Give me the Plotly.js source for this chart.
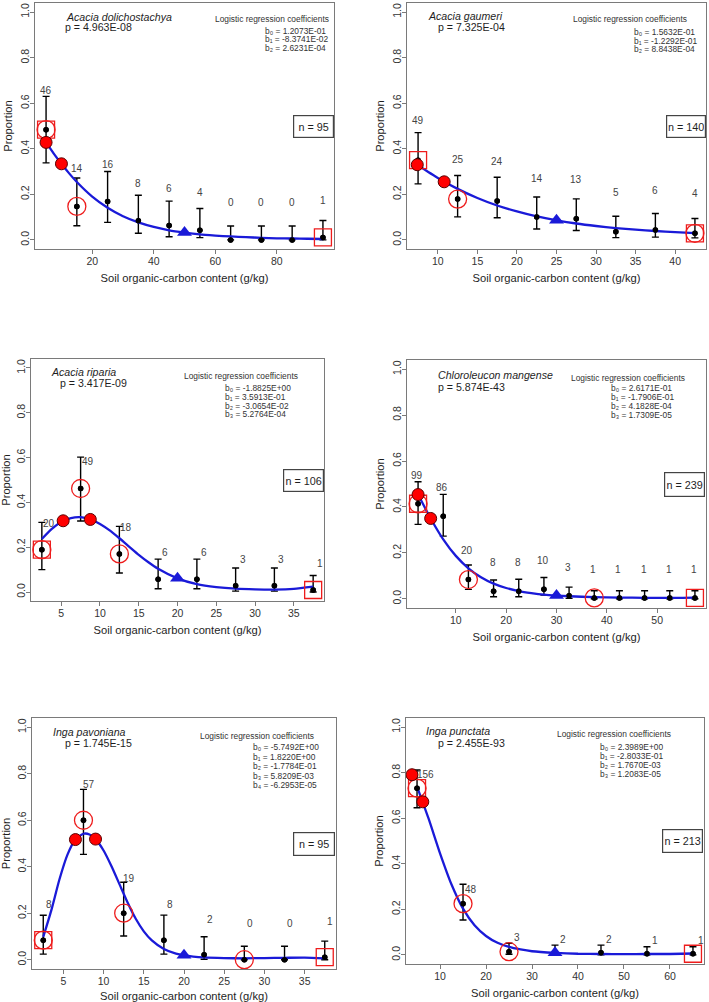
<!DOCTYPE html>
<html>
<head>
<meta charset="utf-8">
<script src="https://cdn.plot.ly/plotly-3.0.1.min.js"></script>
<style>
  html, body { margin: 0; padding: 0; background: #ffffff; }
  #chart { width: 709px; height: 1002px; }
</style>
</head>
<body>
<div id="chart"></div>
<script>
// ---------- Acacia dolichostachya ----------
const p1_species = 'Acacia dolichostachya';
const p1_pvalue = '4.963E-08';
const p1_coefs = ['1.2073E-01', '-8.3741E-02', '2.6231E-04'];
const p1_n = 95;
const p1_bins = [5, 15, 25, 35, 45, 55, 65, 75, 85, 95];
const p1_counts = [46, 14, 16, 8, 6, 4, 0, 0, 0, 1];
const p1_prop = [0.484, 0.147, 0.168, 0.084, 0.063, 0.042, 0, 0, 0, 0.011];
const p1_upper = [0.630, 0.272, 0.300, 0.196, 0.170, 0.138, 0.061, 0.061, 0.061, 0.085];
const p1_lower = [0.338, 0.062, 0.077, 0.029, 0.014, 0.010, 0, 0, 0, 0];
const p1_fitX = [5, 7.5, 10, 12.5, 15, 20, 25, 30, 35, 40, 45, 50, 55, 60, 65, 70, 75, 80, 85, 90, 95];
const p1_fitY = [0.428, 0.379, 0.334, 0.292, 0.254, 0.190, 0.141, 0.104, 0.077, 0.057, 0.042, 0.032, 0.024, 0.019, 0.015, 0.012, 0.009, 0.007, 0.006, 0.005, 0.004];
const p1_redX = [5, 10];
const p1_redY = [0.428, 0.334];
const p1_triX = [50];
const p1_triY = [0.032];
const p1_circled = [5, 15];
const p1_boxed = [5, 95];

// ---------- Acacia gaumeri ----------
const p2_species = 'Acacia gaumeri';
const p2_pvalue = '7.325E-04';
const p2_coefs = ['1.5632E-01', '-1.2292E-01', '8.8438E-04'];
const p2_n = 140;
const p2_bins = [7.5, 12.5, 17.5, 22.5, 27.5, 32.5, 37.5, 42.5];
const p2_counts = [49, 25, 24, 14, 13, 5, 6, 4];
const p2_prop = [0.350, 0.179, 0.171, 0.100, 0.093, 0.036, 0.043, 0.029];
const p2_upper = [0.471, 0.283, 0.275, 0.188, 0.180, 0.104, 0.116, 0.094];
const p2_lower = [0.246, 0.101, 0.097, 0.048, 0.041, 0.010, 0.012, 0.009];
const p2_fitX = [7.5, 10, 12.5, 15, 17.5, 20, 22.5, 25, 27.5, 30, 32.5, 35, 37.5, 40, 42.5];
const p2_fitY = [0.328, 0.272, 0.224, 0.184, 0.151, 0.125, 0.103, 0.086, 0.072, 0.061, 0.052, 0.045, 0.039, 0.034, 0.030];
const p2_redX = [7.4, 10.8];
const p2_redY = [0.330, 0.255];
const p2_triX = [25];
const p2_triY = [0.086];
const p2_circled = [12.5, 42.5];
const p2_boxed = [7.5, 42.5];

// ---------- Acacia riparia ----------
const p3_species = 'Acacia riparia';
const p3_pvalue = '3.417E-09';
const p3_coefs = ['-1.8825E+00', '3.5913E-01', '-3.0654E-02', '5.2764E-04'];
const p3_n = 106;
const p3_bins = [2.5, 7.5, 12.5, 17.5, 22.5, 27.5, 32.5, 37.5];
const p3_counts = [20, 49, 18, 6, 6, 3, 3, 1];
const p3_prop = [0.189, 0.462, 0.170, 0.057, 0.057, 0.028, 0.028, 0.009];
const p3_upper = [0.311, 0.602, 0.293, 0.147, 0.147, 0.107, 0.107, 0.074];
const p3_lower = [0.100, 0.317, 0.085, 0.015, 0.015, 0.004, 0.004, 0];
const p3_fitX = [2.5, 3.75, 5, 6.25, 7.5, 8.75, 10, 11.25, 12.5, 13.75, 15, 16.25, 17.5, 20, 22.5, 25, 27.5, 30, 32.5, 35, 37.5];
const p3_fitY = [0.237, 0.281, 0.313, 0.330, 0.334, 0.324, 0.304, 0.275, 0.240, 0.203, 0.166, 0.133, 0.104, 0.061, 0.035, 0.022, 0.015, 0.012, 0.011, 0.014, 0.024];
const p3_redX = [5.25, 8.75];
const p3_redY = [0.318, 0.324];
const p3_triX = [20];
const p3_triY = [0.061];
const p3_circled = [2.5, 7.5, 12.5];
const p3_boxed = [2.5, 37.5];

// ---------- Chloroleucon mangense ----------
const p4_species = 'Chloroleucon mangense';
const p4_pvalue = '5.874E-43';
const p4_coefs = ['2.6171E-01', '-1.7906E-01', '4.1828E-04', '1.7309E-05'];
const p4_n = 239;
const p4_bins = [2.5, 7.5, 12.5, 17.5, 22.5, 27.5, 32.5, 37.5, 42.5, 47.5, 52.5, 57.5];
const p4_counts = [99, 86, 20, 8, 8, 10, 3, 1, 1, 1, 1, 1];
const p4_prop = [0.414, 0.360, 0.084, 0.033, 0.033, 0.042, 0.013, 0.004, 0.004, 0.004, 0.004, 0.004];
const p4_upper = [0.510, 0.455, 0.147, 0.082, 0.085, 0.093, 0.051, 0.035, 0.035, 0.035, 0.035, 0.035];
const p4_lower = [0.324, 0.273, 0.041, 0.009, 0.009, 0.016, 0.002, 0, 0, 0, 0, 0];
const p4_fitX = [2.5, 5, 7.5, 10, 12.5, 15, 17.5, 20, 22.5, 25, 27.5, 30, 35, 40, 45, 50, 55, 57.5];
const p4_fitY = [0.454, 0.350, 0.259, 0.187, 0.133, 0.094, 0.066, 0.047, 0.034, 0.025, 0.018, 0.014, 0.009, 0.006, 0.005, 0.004, 0.004, 0.005];
const p4_redX = [2.5, 5];
const p4_redY = [0.454, 0.350];
const p4_triX = [30];
const p4_triY = [0.014];
const p4_circled = [2.5, 12.5, 37.5];
const p4_boxed = [2.5, 57.5];

// ---------- Inga pavoniana ----------
const p5_species = 'Inga pavoniana';
const p5_pvalue = '1.745E-15';
const p5_coefs = ['-5.7492E+00', '1.8220E+00', '-1.7784E-01', '5.8209E-03', '-6.2953E-05'];
const p5_n = 95;
const p5_bins = [2.5, 7.5, 12.5, 17.5, 22.5, 27.5, 32.5, 37.5];
const p5_counts = [8, 57, 19, 8, 2, 0, 0, 1];
const p5_prop = [0.084, 0.600, 0.200, 0.084, 0.021, 0, 0, 0.011];
const p5_upper = [0.191, 0.733, 0.333, 0.192, 0.099, 0.058, 0.058, 0.080];
const p5_lower = [0.024, 0.453, 0.102, 0.024, 0.002, 0, 0, 0];
const p5_fitX = [2.5, 3.5, 4.5, 5.5, 6.5, 7.5, 8.25, 9, 10, 11, 12, 13, 14, 15, 16, 17.5, 19, 20, 22.5, 25, 27.5, 30, 32.5, 35, 37.5];
const p5_fitY = [0.098, 0.212, 0.344, 0.451, 0.517, 0.542, 0.539, 0.519, 0.470, 0.401, 0.323, 0.245, 0.176, 0.122, 0.083, 0.046, 0.026, 0.019, 0.010, 0.007, 0.006, 0.007, 0.008, 0.009, 0.006];
const p5_redX = [6.5, 9];
const p5_redY = [0.517, 0.519];
const p5_triX = [20];
const p5_triY = [0.019];
const p5_circled = [2.5, 7.5, 12.5, 27.5];
const p5_boxed = [2.5, 37.5];

// ---------- Inga punctata ----------
const p6_species = 'Inga punctata';
const p6_pvalue = '2.455E-93';
const p6_coefs = ['2.3989E+00', '-2.8033E-01', '1.7670E-03', '1.2083E-05'];
const p6_n = 213;
const p6_bins = [5, 15, 25, 35, 45, 55, 65];
const p6_counts = [156, 48, 3, 2, 2, 1, 1];
const p6_prop = [0.732, 0.225, 0.014, 0.009, 0.009, 0.005, 0.005];
const p6_upper = [0.812, 0.310, 0.051, 0.043, 0.043, 0.036, 0.036];
const p6_lower = [0.646, 0.153, 0.003, 0, 0, 0, 0];
const p6_fitX = [5, 7.5, 10, 12.5, 15, 17.5, 20, 22.5, 25, 27.5, 30, 35, 40, 45, 50, 55, 60, 65];
const p6_fitY = [0.739, 0.599, 0.446, 0.309, 0.203, 0.130, 0.083, 0.053, 0.035, 0.024, 0.016, 0.009, 0.005, 0.004, 0.003, 0.004, 0.004, 0.006];
const p6_redX = [3.9, 6.25];
const p6_redY = [0.791, 0.672];
const p6_triX = [35];
const p6_triY = [0.009];
const p6_circled = [5, 15, 25];
const p6_boxed = [5, 65];

const X_TITLE = 'Soil organic-carbon content (g/kg)';
const Y_TITLE = 'Proportion';
const COEF_TITLE = 'Logistic regression coefficients';
const COEF_NAMES = ['b₀', 'b₁', 'b₂', 'b₃', 'b₄'];

// ---------- panel assembly ----------
const panels = [
  { species: p1_species, p: p1_pvalue, coefs: p1_coefs, n: p1_n, bins: p1_bins, counts: p1_counts,
    prop: p1_prop, upper: p1_upper, lower: p1_lower, fitX: p1_fitX, fitY: p1_fitY,
    redX: p1_redX, redY: p1_redY, triX: p1_triX, triY: p1_triY, circled: p1_circled, boxed: p1_boxed },
  { species: p2_species, p: p2_pvalue, coefs: p2_coefs, n: p2_n, bins: p2_bins, counts: p2_counts,
    prop: p2_prop, upper: p2_upper, lower: p2_lower, fitX: p2_fitX, fitY: p2_fitY,
    redX: p2_redX, redY: p2_redY, triX: p2_triX, triY: p2_triY, circled: p2_circled, boxed: p2_boxed },
  { species: p3_species, p: p3_pvalue, coefs: p3_coefs, n: p3_n, bins: p3_bins, counts: p3_counts,
    prop: p3_prop, upper: p3_upper, lower: p3_lower, fitX: p3_fitX, fitY: p3_fitY,
    redX: p3_redX, redY: p3_redY, triX: p3_triX, triY: p3_triY, circled: p3_circled, boxed: p3_boxed },
  { species: p4_species, p: p4_pvalue, coefs: p4_coefs, n: p4_n, bins: p4_bins, counts: p4_counts,
    prop: p4_prop, upper: p4_upper, lower: p4_lower, fitX: p4_fitX, fitY: p4_fitY,
    redX: p4_redX, redY: p4_redY, triX: p4_triX, triY: p4_triY, circled: p4_circled, boxed: p4_boxed },
  { species: p5_species, p: p5_pvalue, coefs: p5_coefs, n: p5_n, bins: p5_bins, counts: p5_counts,
    prop: p5_prop, upper: p5_upper, lower: p5_lower, fitX: p5_fitX, fitY: p5_fitY,
    redX: p5_redX, redY: p5_redY, triX: p5_triX, triY: p5_triY, circled: p5_circled, boxed: p5_boxed },
  { species: p6_species, p: p6_pvalue, coefs: p6_coefs, n: p6_n, bins: p6_bins, counts: p6_counts,
    prop: p6_prop, upper: p6_upper, lower: p6_lower, fitX: p6_fitX, fitY: p6_fitY,
    redX: p6_redX, redY: p6_redY, triX: p6_triX, triY: p6_triY, circled: p6_circled, boxed: p6_boxed }
];

// Page geometry (pixels) for each panel: plot box, x range, text placement.
const W = 709, H = 1002;
const geom = [
  { box: [35, 3, 334, 249], xr: [1.4, 98.6], dtick: 20, species: [64, 17], pline: [63, 27],
    coefTitle: [213, 19], coef: [263, 31], coefStep: 8.5, nBox: [293, 115, 334, 138], labelDx: 0,
    labelY: [0.658, 0.314, 0.333, 0.249, 0.227, 0.207, 0.163, 0.163, 0.163, 0.175] },
  { box: [407, 3, 706, 249], xr: [6.1, 43.9], dtick: 5, species: [426, 16], pline: [436, 27],
    coefTitle: [571, 19], coef: [632, 32], coefStep: 8.5, nBox: [666, 115, 706, 138], labelDx: 0,
    labelY: [0.526, 0.351, 0.343, 0.270, 0.266, 0.207, 0.216, 0.205] },
  { box: [31, 359, 324, 601], xr: [1.1, 38.9], dtick: 5, species: [49, 372], pline: [58, 383],
    coefTitle: [182, 376], coef: [223, 388], coefStep: 8.8, nBox: [283, 469, 324, 492], labelDx: 0.9,
    labelY: [0.307, 0.582, 0.289, 0.177, 0.177, 0.143, 0.143, 0.127] },
  { box: [407, 360, 706, 608], xr: [0.3, 59.7], dtick: 10, species: [436, 375], pline: [436, 387],
    coefTitle: [569, 378], coef: [609, 388.3], coefStep: 8.9, nBox: [664, 472, 705, 497], labelDx: -0.2,
    labelY: [0.539, 0.486, 0.209, 0.157, 0.157, 0.168, 0.137, 0.128, 0.128, 0.128, 0.128, 0.128] },
  { box: [32, 718, 336, 969], xr: [1.1, 38.9], dtick: 5, species: [51, 732], pline: [63, 743],
    coefTitle: [198, 736], coef: [251, 747.3], coefStep: 9.4, nBox: [293, 832, 335, 856], labelDx: 0.7,
    labelY: [0.238, 0.752, 0.350, 0.238, 0.171, 0.154, 0.154, 0.164] },
  { box: [406, 718, 704, 964], xr: [2.6, 67.4], dtick: 10, species: [424, 731], pline: [436, 743],
    coefTitle: [555, 734], coef: [598, 746.7], coefStep: 9.1, nBox: [662, 829, 703, 853], labelDx: 1.8,
    labelY: [0.794, 0.285, 0.076, 0.068, 0.068, 0.062, 0.062] }
];

const FONT = 'Liberation Sans, Arial, Helvetica, sans-serif';
const BLUE = '#1a1ad8';
const RED = '#ee1c1c';
const AXIS_GREY = '#7a7a7a';
const TEXT = '#1e1e1e';

const px = v => v / W;
const py = v => 1 - v / H;

const traces = [];
const annotations = [];
const layout = {
  width: W, height: H, autosize: false,
  margin: { l: 0, r: 0, t: 0, b: 0, pad: 0 },
  paper_bgcolor: '#ffffff', plot_bgcolor: '#ffffff',
  showlegend: false,
  font: { family: FONT, color: TEXT, size: 10 },
  annotations: annotations
};

panels.forEach((d, i) => {
  const g = geom[i];
  const s = i === 0 ? '' : String(i + 1);
  const xa = 'x' + s, ya = 'y' + s;
  const [bl, bt, br, bb] = g.box;

  layout['xaxis' + s] = {
    domain: [px(bl), px(br)], range: g.xr, anchor: ya,
    showline: true, mirror: true, linecolor: AXIS_GREY, linewidth: 1.3,
    ticks: 'outside', ticklen: 4, tickwidth: 1, tickcolor: AXIS_GREY,
    tick0: 0, dtick: g.dtick, showgrid: false, zeroline: false,
    ticklabelstandoff: -2,
    tickfont: { size: 10.5, color: '#333', family: FONT },
    title: { text: X_TITLE, font: { size: 11.2, color: TEXT, family: FONT }, standoff: 8 },
    automargin: false, fixedrange: true
  };
  layout['yaxis' + s] = {
    domain: [py(bb), py(bt)], range: [-0.04, 1.04], anchor: xa,
    showline: true, mirror: true, linecolor: AXIS_GREY, linewidth: 1.3,
    ticks: 'outside', ticklen: 4, tickwidth: 1, tickcolor: AXIS_GREY,
    tick0: 0, dtick: 0.2, tickformat: '.1f', tickangle: -90,
    ticklabelstandoff: -3,
    showgrid: false, zeroline: false,
    tickfont: { size: 10.5, color: '#333', family: FONT },
    title: { text: Y_TITLE, font: { size: 11.2, color: TEXT, family: FONT }, standoff: 3 },
    automargin: false, fixedrange: true
  };

  const errPlus = d.upper.map((u, k) => Math.max(0, u - d.prop[k]));
  const errMinus = d.lower.map((l, k) => Math.max(0, d.prop[k] - l));
  const propAt = x => d.prop[d.bins.indexOf(x)];

  // observed proportions with their intervals
  traces.push({
    type: 'scatter', mode: 'markers', x: d.bins, y: d.prop, xaxis: xa, yaxis: ya,
    marker: { size: 5.5, color: '#000000' },
    error_y: { type: 'data', symmetric: false, array: errPlus, arrayminus: errMinus,
               color: '#000000', thickness: 1.4, width: 3.5 },
    hoverinfo: 'skip', cliponaxis: false
  });
  // fitted logistic curve
  traces.push({
    type: 'scatter', mode: 'lines', x: d.fitX, y: d.fitY, xaxis: xa, yaxis: ya,
    line: { color: BLUE, width: 2.3, shape: 'spline', smoothing: 0.6 },
    hoverinfo: 'skip'
  });
  // observed points redrawn above the curve
  traces.push({
    type: 'scatter', mode: 'markers', x: d.bins, y: d.prop, xaxis: xa, yaxis: ya,
    marker: { size: 5.5, color: '#000000' }, hoverinfo: 'skip', cliponaxis: false
  });
  // circled bins
  traces.push({
    type: 'scatter', mode: 'markers', x: d.circled, y: d.circled.map(propAt), xaxis: xa, yaxis: ya,
    marker: { symbol: 'circle-open', size: 18, color: RED, line: { width: 1.3 } },
    hoverinfo: 'skip', cliponaxis: false
  });
  // boxed bins
  traces.push({
    type: 'scatter', mode: 'markers', x: d.boxed, y: d.boxed.map(propAt), xaxis: xa, yaxis: ya,
    marker: { symbol: 'square-open', size: 17, color: RED, line: { width: 1.3 } },
    hoverinfo: 'skip', cliponaxis: false
  });
  // red points on the curve
  traces.push({
    type: 'scatter', mode: 'markers', x: d.redX, y: d.redY, xaxis: xa, yaxis: ya,
    marker: { symbol: 'circle', size: 12, color: '#ff0000', line: { color: '#5a0000', width: 1 } },
    hoverinfo: 'skip', cliponaxis: false
  });
  // blue triangle on the curve
  traces.push({
    type: 'scatter', mode: 'markers', x: d.triX, y: d.triY, xaxis: xa, yaxis: ya,
    marker: { symbol: 'triangle-up', size: 13, color: BLUE, line: { width: 0 } },
    hoverinfo: 'skip', cliponaxis: false
  });

  // count labels
  d.counts.forEach((c, k) => {
    annotations.push({
      xref: xa, yref: ya, x: d.bins[k] + g.labelDx, y: g.labelY[k],
      text: String(c), showarrow: false, xanchor: 'center', yanchor: 'middle',
      font: { size: 10, color: '#444444', family: FONT }
    });
  });

  // species name and p value
  annotations.push({
    xref: 'paper', yref: 'paper', x: px(g.species[0]), y: py(g.species[1]),
    text: '<i>' + d.species + '</i>', showarrow: false, xanchor: 'left', yanchor: 'middle',
    font: { size: 10.6, color: TEXT, family: FONT }
  });
  annotations.push({
    xref: 'paper', yref: 'paper', x: px(g.pline[0]), y: py(g.pline[1]),
    text: 'p = ' + d.p, showarrow: false, xanchor: 'left', yanchor: 'middle',
    font: { size: 10.6, color: TEXT, family: FONT }
  });

  // coefficient block
  annotations.push({
    xref: 'paper', yref: 'paper', x: px(g.coefTitle[0]), y: py(g.coefTitle[1]),
    text: COEF_TITLE, showarrow: false, xanchor: 'left', yanchor: 'middle',
    font: { size: 8.4, color: '#333333', family: FONT }
  });
  d.coefs.forEach((c, k) => {
    annotations.push({
      xref: 'paper', yref: 'paper', x: px(g.coef[0]), y: py(g.coef[1] + k * g.coefStep),
      text: COEF_NAMES[k] + ' = ' + c, showarrow: false, xanchor: 'left', yanchor: 'middle',
      font: { size: 8.4, color: '#333333', family: FONT }
    });
  });

  // sample size box
  const [nl, nt, nr, nb] = g.nBox;
  annotations.push({
    xref: 'paper', yref: 'paper', x: px(nr), y: py((nt + nb) / 2),
    text: 'n = ' + d.n, showarrow: false, xanchor: 'right', yanchor: 'middle',
    width: nr - nl - 4, height: nb - nt - 4, align: 'center', valign: 'middle',
    bordercolor: '#444444', borderwidth: 1.2, borderpad: 1, bgcolor: '#ffffff',
    font: { size: 10.8, color: TEXT, family: FONT }
  });
});

Plotly.newPlot('chart', traces, layout, { staticPlot: true, displayModeBar: false });
</script>
</body>
</html>
